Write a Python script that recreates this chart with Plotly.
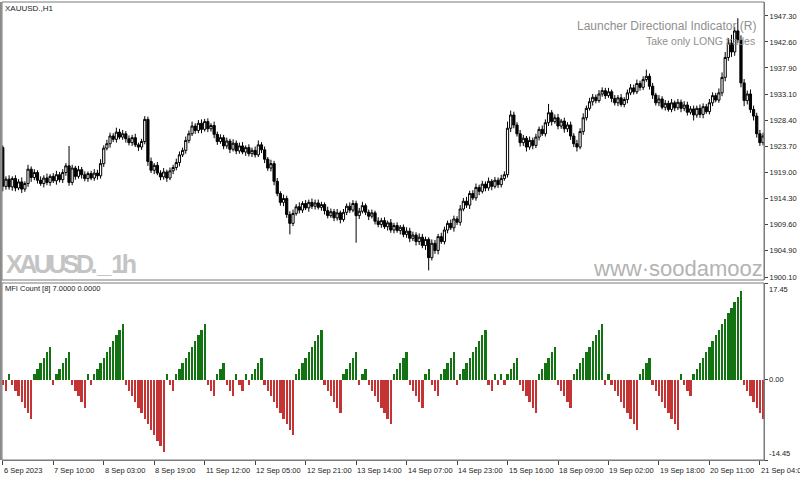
import plotly.graph_objects as go

# ---------------- data ----------------
first_open = 1923.5
closes = [
    1916.5, 1917.8, 1916.4, 1917.9, 1916.2, 1917.3, 1916.0, 1917.0, 1919.6, 1918.1,
    1919.0, 1917.6, 1917.0, 1918.0, 1917.2, 1918.3, 1917.5, 1918.6, 1917.7, 1919.0,
    1920.2, 1917.2, 1919.8, 1918.3, 1919.5, 1918.6, 1917.9, 1918.8, 1918.0, 1918.9,
    1918.4, 1920.6, 1923.4, 1924.2, 1925.6, 1925.0, 1926.3, 1925.4, 1926.0, 1925.1,
    1924.4, 1925.3, 1924.0, 1923.6, 1924.6, 1928.6, 1921.0, 1919.4, 1920.3, 1918.9,
    1918.2, 1919.1, 1918.0, 1919.3, 1919.9, 1920.8, 1922.2, 1923.0, 1924.8, 1926.0,
    1927.4, 1926.6, 1927.9, 1926.8, 1928.2, 1926.9, 1927.5, 1925.9, 1924.6, 1925.3,
    1923.8, 1924.7, 1923.2, 1924.3, 1922.9, 1923.8, 1922.7, 1923.5, 1922.4, 1923.0,
    1922.2, 1924.0, 1923.1, 1921.4, 1919.8, 1920.6, 1917.4, 1915.2, 1913.6, 1914.3,
    1911.4, 1909.8, 1911.6, 1912.8, 1912.2, 1913.4, 1912.6, 1913.6, 1912.9, 1913.5,
    1912.7, 1913.2, 1912.1, 1911.2, 1911.9, 1910.8, 1911.7, 1910.5, 1911.8, 1912.9,
    1912.2, 1913.4, 1911.2, 1912.0, 1913.0, 1911.8, 1911.1, 1911.7, 1910.2, 1909.6,
    1910.3, 1909.2, 1909.9, 1908.6, 1909.4, 1908.5, 1909.1, 1907.8, 1908.4, 1907.1,
    1907.7, 1906.5, 1907.3, 1905.8, 1906.9, 1903.6, 1906.2, 1904.9, 1907.4, 1906.5,
    1908.6, 1909.8, 1909.0, 1910.6, 1910.0, 1912.4, 1913.8, 1913.1, 1915.2, 1914.4,
    1916.3, 1915.6, 1916.9, 1916.2, 1917.4, 1916.5, 1917.6, 1916.8, 1917.9, 1918.6,
    1927.0, 1929.4, 1927.6, 1926.0, 1924.4, 1925.2, 1923.6, 1924.8, 1923.9, 1925.4,
    1926.8, 1926.0, 1928.0, 1929.8, 1928.2, 1928.9, 1927.4, 1928.3, 1926.9, 1927.6,
    1925.6, 1924.2, 1923.6, 1926.4, 1928.9, 1930.6, 1931.8, 1932.6, 1932.0, 1933.2,
    1933.8, 1932.9, 1933.6, 1932.4, 1931.6, 1932.5, 1931.3, 1932.2, 1933.4, 1934.3,
    1933.6, 1935.1, 1934.4, 1935.8, 1936.4, 1934.6, 1933.0, 1931.6, 1932.3, 1930.8,
    1931.5, 1930.4, 1931.6, 1930.7, 1931.7, 1930.6, 1931.2, 1929.9, 1930.5, 1929.4,
    1930.6, 1929.5, 1930.9, 1930.0, 1931.6, 1932.9, 1932.1, 1933.4, 1936.2, 1939.8,
    1942.4, 1940.8, 1944.6, 1943.0, 1935.2, 1932.0, 1933.2, 1930.4, 1929.2, 1926.0,
    1924.4, 1925.6,
]
upper_wick = [
    0.4, 0.5, 0.7, 0.4, 0.6, 0.5, 0.8, 0.4, 0.8, 0.5,
    0.6, 0.4, 0.7, 0.5, 0.8, 0.4, 0.6, 0.7, 0.5, 0.6,
    0.5, 3.6, 0.6, 0.4, 0.7, 0.5, 0.6, 0.4, 0.5, 0.7,
    0.6, 0.8, 0.5, 0.7, 0.6, 0.5, 0.8, 0.6, 0.7, 0.5,
    0.6, 0.5, 0.7, 0.4, 0.5, 0.6, 0.5, 0.7, 0.4, 0.6,
    0.5, 0.7, 0.4, 0.6, 0.5, 0.7, 0.6, 0.5, 0.7, 0.6,
    0.8, 0.5, 0.6, 0.7, 0.5, 0.6, 0.4, 0.7, 0.5, 0.6,
    0.5, 0.6, 0.4, 0.7, 0.5, 0.6, 0.7, 0.4, 0.6, 0.5,
    0.7, 0.8, 0.5, 0.6, 0.4, 0.7, 0.5, 0.6, 0.4, 0.7,
    0.5, 0.6, 0.7, 0.5, 0.8, 0.4, 0.6, 0.5, 0.7, 0.6,
    0.6, 0.5, 0.4, 0.7, 0.6, 0.5, 0.7, 0.4, 0.6, 0.5,
    0.7, 0.6, 0.5, 0.6, 0.7, 0.4, 0.5, 0.6, 0.4, 0.7,
    0.5, 0.6, 0.4, 0.7, 0.5, 0.6, 0.4, 0.5, 0.7, 0.6,
    0.6, 0.5, 0.7, 0.6, 0.5, 0.4, 0.7, 0.6, 0.5, 0.7,
    0.6, 0.5, 0.7, 0.6, 0.5, 0.7, 0.6, 0.8, 0.5, 0.6,
    0.7, 0.5, 0.6, 0.5, 0.7, 0.4, 0.6, 0.5, 0.7, 0.6,
    1.2, 0.8, 0.6, 0.5, 0.7, 0.6, 0.4, 0.7, 0.5, 0.6,
    0.5, 0.7, 0.6, 1.6, 0.5, 0.6, 0.7, 0.4, 0.6, 0.5,
    0.6, 0.5, 0.7, 0.6, 0.8, 0.5, 0.7, 0.6, 0.5, 0.7,
    0.6, 0.5, 0.7, 0.4, 0.6, 0.5, 0.7, 0.4, 0.6, 0.7,
    0.6, 0.7, 0.5, 0.6, 1.2, 0.5, 0.6, 0.4, 0.7, 0.5,
    0.6, 0.5, 0.7, 0.4, 0.6, 0.5, 0.7, 0.6, 0.5, 0.6,
    0.5, 0.7, 0.6, 0.5, 0.7, 0.6, 0.5, 0.8, 0.9, 1.0,
    0.9, 1.5, 0.7, 2.3, 0.8, 0.7, 0.6, 0.8, 0.7, 0.6,
    0.7, 0.6,
]
lower_wick = [
    0.9, 0.6, 0.5, 0.7, 0.6, 0.4, 0.7, 0.5, 0.6, 0.8,
    0.5, 0.6, 0.4, 0.7, 0.5, 0.6, 0.4, 0.7, 0.5, 0.6,
    0.6, 0.6, 0.5, 0.6, 0.4, 0.7, 0.5, 0.6, 0.4, 0.5,
    0.7, 0.5, 0.6, 0.4, 0.7, 0.5, 0.6, 0.4, 0.5, 0.7,
    0.5, 0.6, 0.4, 0.7, 0.5, 0.5, 0.8, 0.5, 0.7, 0.4,
    0.6, 0.5, 0.7, 0.4, 0.6, 0.5, 0.7, 0.4, 0.6, 0.5,
    0.4, 0.6, 0.5, 0.7, 0.4, 0.6, 0.5, 0.7, 0.6, 0.4,
    0.6, 0.5, 0.7, 0.4, 0.6, 0.5, 0.4, 0.7, 0.5, 0.6,
    0.5, 0.4, 0.6, 0.7, 0.5, 0.6, 0.7, 0.5, 0.6, 0.7,
    0.6, 2.0, 0.5, 0.4, 0.6, 0.5, 0.4, 0.7, 0.5, 0.6,
    0.4, 0.6, 0.7, 0.5, 0.4, 0.6, 0.5, 0.7, 0.4, 0.5,
    0.5, 0.4, 4.9, 0.6, 0.4, 0.5, 0.7, 0.4, 0.6, 0.5,
    0.6, 0.4, 0.7, 0.5, 0.6, 0.4, 0.7, 0.5, 0.6, 0.7,
    0.5, 0.7, 0.6, 0.5, 0.8, 2.3, 0.5, 0.6, 0.7, 0.4,
    0.5, 0.6, 0.4, 0.7, 0.5, 0.6, 0.4, 0.5, 0.7, 0.4,
    0.5, 0.7, 0.4, 0.6, 0.5, 0.7, 0.4, 0.6, 0.5, 0.4,
    0.5, 0.7, 0.6, 0.5, 0.7, 0.6, 0.8, 0.5, 0.7, 0.5,
    0.6, 0.4, 0.5, 0.6, 0.7, 0.4, 0.6, 0.5, 0.7, 0.6,
    0.7, 0.6, 0.8, 0.4, 0.6, 0.5, 0.4, 0.7, 0.5, 0.4,
    0.5, 0.6, 0.4, 0.7, 0.5, 0.6, 0.4, 0.5, 0.7, 0.4,
    0.5, 0.4, 0.6, 0.5, 0.4, 0.6, 0.7, 0.5, 0.6, 0.4,
    0.6, 0.4, 0.5, 0.6, 0.4, 0.7, 0.5, 0.6, 0.4, 1.0,
    0.5, 0.6, 0.7, 0.4, 0.5, 0.6, 0.4, 0.5, 0.6, 0.7,
    0.6, 0.9, 0.7, 0.6, 0.8, 1.0, 0.7, 0.6, 0.8, 0.7,
    0.6, 0.5,
]
mfi_count = [
    -1, -2, 1, -1, -2, -3, -4, -5, -6, -7,
    1, 2, 3, 4, 5, 6, -1, 1, 2, 3,
    4, 5, -1, -2, -3, -4, -5, 1, -1, 1,
    2, 3, 4, 5, 6, 7, 8, 9, 10, -1,
    -2, -3, -4, -5, -6, -7, -8, -9, -10, -11,
    -12, -13, 1, -1, -2, 1, 2, 3, 4, 5,
    6, 7, 8, 9, 10, -1, -2, -3, 1, 2,
    3, -1, -2, -3, 1, -1, -2, 1, -1, 1,
    2, 3, 4, -1, -2, -3, -4, -5, -6, -7,
    -8, -9, -10, 1, 2, 3, 4, 5, 6, 7,
    8, 9, -1, -2, -3, -4, -5, -6, 1, 2,
    3, 4, 5, -1, 1, 2, -1, -2, -3, -4,
    -5, -6, -7, -8, 1, 2, 3, 4, 5, -1,
    -2, -3, -4, -5, 1, 2, -1, -2, -3, 1,
    2, 3, 4, 5, -1, 1, 2, 3, 4, 5,
    6, 7, 8, 9, -1, -2, 1, -1, 1, -1,
    1, 2, 3, 4, -1, -2, -3, -4, -5, -6,
    1, 2, 3, 4, 5, 6, -1, -2, -3, -4,
    -5, 1, 2, 3, 4, 5, 6, 7, 8, 9,
    10, -1, 1, -1, -2, -3, -4, -5, -6, -7,
    -8, -9, 1, 2, 3, 4, -1, -2, -3, -4,
    -5, -6, -7, -8, -9, 1, -1, -2, -3, 1,
    2, 3, 4, 5, 6, 7, 8, 9, 10, 11,
    12, 13, 14, 15, 16, -1, -2, -3, -4, -5,
    -6, -7,
]
x_tick_labels = ["6 Sep 2023", "7 Sep 10:00", "8 Sep 03:00", "8 Sep 19:00",
                 "11 Sep 12:00", "12 Sep 05:00", "12 Sep 21:00", "13 Sep 14:00",
                 "14 Sep 07:00", "14 Sep 23:00", "15 Sep 16:00", "18 Sep 09:00",
                 "19 Sep 02:00", "19 Sep 18:00", "20 Sep 11:00", "21 Sep 04:00"]
bars_per_label = 16
price_ticks = [1947.30, 1942.60, 1937.90, 1933.10, 1928.40, 1923.70,
               1919.00, 1914.30, 1909.60, 1904.90, 1900.10]
ind_ticks = [17.45, 0.00, -14.45]

# ---------------- build ----------------
n = len(closes)
idx = list(range(n))
opens = [first_open] + closes[:-1]
highs = [max(o, c) + u for o, c, u in zip(opens, closes, upper_wick)]
lows = [min(o, c) - l for o, c, l in zip(opens, closes, lower_wick)]
bar_colors = ["#137313" if v > 0 else "#c53434" for v in mfi_count]
tick_idx = [i * bars_per_label for i in range(len(x_tick_labels))]

W, H = 800, 477
ML, MR, MT, MB = 2, 36, 2, 17
PW, PH = W - ML - MR, H - MT - MB


def xp(px):
    return (px - ML) / PW


def yp(py):
    return (H - MB - py) / PH


price_dom = [yp(280), 1.0]
ind_dom = [0.0, yp(283)]

fig = go.Figure()
fig.add_trace(go.Candlestick(
    x=idx, open=opens, high=highs, low=lows, close=closes,
    xaxis="x", yaxis="y",
    increasing=dict(line=dict(color="#000000", width=1), fillcolor="#ffffff"),
    decreasing=dict(line=dict(color="#000000", width=1), fillcolor="#000000"),
    whiskerwidth=0, showlegend=False, hoverinfo="skip"))
fig.add_trace(go.Bar(
    x=idx, y=mfi_count, xaxis="x2", yaxis="y2", width=0.74,
    marker=dict(color=bar_colors, line=dict(width=0)),
    showlegend=False, hoverinfo="skip"))

axis_font = dict(family="Liberation Sans, Arial, sans-serif", size=7.5, color="#1a1a1a")
xrange = [-0.25, n - 0.7]
fig.update_layout(
    width=W, height=H, margin=dict(l=ML, r=MR, t=MT, b=MB),
    paper_bgcolor="#ffffff", plot_bgcolor="#ffffff", bargap=0, boxgap=0.0,
    xaxis=dict(domain=[0, 1], anchor="y", range=xrange, showgrid=False,
               zeroline=False, showticklabels=False, ticks="",
               rangeslider=dict(visible=False), fixedrange=True),
    xaxis2=dict(domain=[0, 1], anchor="y2", matches="x", range=xrange,
                showgrid=False, zeroline=False, showticklabels=False,
                tickmode="array", tickvals=tick_idx, ticks="outside",
                ticklen=4, tickcolor="#444444", showline=True,
                linecolor="#7a7a7a", linewidth=1),
    yaxis=dict(domain=price_dom, anchor="x", side="right",
               range=[1899.56, 1949.83], showgrid=False, zeroline=False,
               tickmode="array", tickvals=price_ticks,
               ticktext=[f"{v:.2f}" for v in price_ticks],
               ticks="outside", ticklen=3, tickcolor="#444444",
               showline=True, linecolor="#7a7a7a", linewidth=1,
               tickfont=axis_font),
    yaxis2=dict(domain=ind_dom, anchor="x2", side="right",
                range=[-14.45, 17.45], showgrid=False, zeroline=False,
                tickmode="array", tickvals=ind_ticks, showticklabels=False,
                ticks="outside", ticklen=3, tickcolor="#444444",
                showline=True, linecolor="#7a7a7a", linewidth=1),
)

# panel frames
fig.add_shape(type="rect", xref="paper", yref="paper", x0=0, x1=1,
              y0=price_dom[0], y1=1, line=dict(color="#7a7a7a", width=1),
              layer="above")
fig.add_shape(type="rect", xref="paper", yref="paper", x0=0, x1=1,
              y0=0, y1=ind_dom[1], line=dict(color="#7a7a7a", width=1),
              layer="above")
fig.add_shape(type="line", xref="paper", yref="paper", x0=-0.0015, x1=-0.0015,
              y0=0, y1=1, line=dict(color="#8a8a8a", width=2), layer="above")

ann = []
for i, lab in zip(tick_idx, x_tick_labels):
    ann.append(dict(x=i, xref="x2", y=0, yref="paper", yshift=-4,
                    text=lab, showarrow=False, xanchor="left", yanchor="top",
                    xshift=-1, font=axis_font))
# indicator-window scale labels (MT4 style: top label hangs below the top edge)
for v, anchor in zip(ind_ticks, ["top", "middle", "bottom"]):
    ann.append(dict(x=1, xref="paper", y=v, yref="y2", xshift=3,
                    text=f"{v:.2f}", showarrow=False, xanchor="left",
                    yanchor=anchor, font=axis_font))
ann += [
    dict(x=xp(3), y=yp(8), xref="paper", yref="paper", text="XAUUSD.,H1",
         showarrow=False, xanchor="left", yanchor="middle",
         font=dict(family="Liberation Sans, Arial, sans-serif", size=8, color="#222222")),
    dict(x=xp(758), y=yp(26), xref="paper", yref="paper",
         text="Launcher Directional Indicator (R)", showarrow=False,
         xanchor="right", yanchor="middle",
         font=dict(family="Liberation Sans, Arial, sans-serif", size=12, color="#8f8f8f")),
    dict(x=xp(757), y=yp(41), xref="paper", yref="paper",
         text="Take only LONG trades", showarrow=False,
         xanchor="right", yanchor="middle",
         font=dict(family="Liberation Sans, Arial, sans-serif", size=10.5, color="#8f8f8f")),
    dict(x=xp(4), y=yp(264), xref="paper", yref="paper",
         text='<span style="font-weight:bold;letter-spacing:-3.5px">XAUUSD. _ 1h</span>',
         showarrow=False, xanchor="left", yanchor="middle",
         font=dict(family="Liberation Sans, Arial, sans-serif",
                   size=25, color="#c4c4c4")),
    dict(x=xp(765), y=yp(268), xref="paper", yref="paper", text="www·soodamooz",
         showarrow=False, xanchor="right", yanchor="middle",
         font=dict(family="Liberation Sans, Arial, sans-serif", size=22, color="#b3b3b3")),
    dict(x=xp(3), y=yp(288), xref="paper", yref="paper",
         text="MFI Count [8] 7.0000 0.0000", showarrow=False,
         xanchor="left", yanchor="middle", font=axis_font),
]
fig.update_layout(annotations=ann)

fig.write_html("out.html", config={"displayModeBar": False})
